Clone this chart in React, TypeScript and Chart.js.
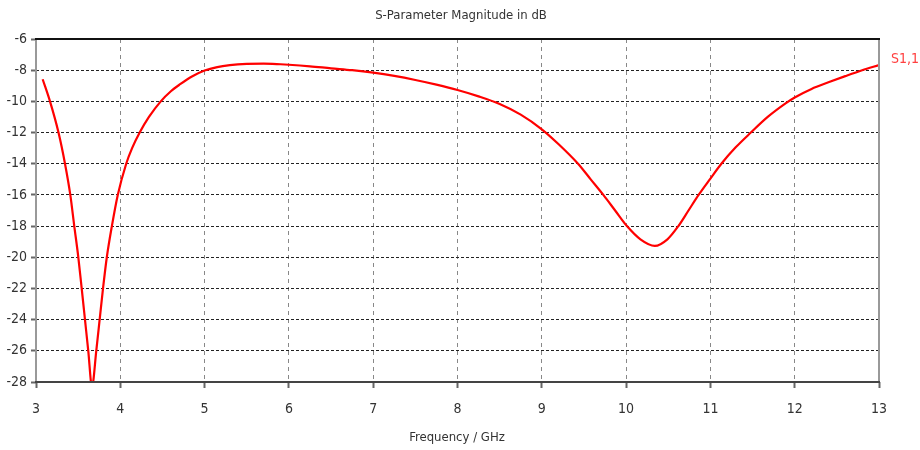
import React, { useEffect, useRef } from "react";
import { Chart, registerables } from "chart.js";

Chart.register(...registerables);

const TITLE = "S-Parameter Magnitude in dB";
const X_TITLE = "Frequency / GHz";
const SERIES_LABEL = "S1,1";

const freqGHz = [
  3.079, 3.166, 3.267, 3.344, 3.407, 3.454, 3.502, 3.542, 3.581, 3.62, 3.664,
  3.715, 3.755, 3.795, 3.84, 3.9, 3.97, 4.07, 4.14, 4.23, 4.34, 4.48, 4.6, 4.71, 4.85,
  5.0, 5.15, 5.3, 5.5, 5.7, 5.9, 6.0, 6.25, 6.5, 6.75, 7.0, 7.25, 7.5, 7.75, 8.0,
  8.25, 8.5, 8.75, 9.0, 9.2, 9.43, 9.58, 9.73, 9.87, 10.01, 10.17, 10.34, 10.49,
  10.62, 10.74, 10.86, 11.0, 11.13, 11.3, 11.48, 11.68, 11.9, 12.0, 12.2, 12.4,
  12.6, 12.8, 13.0,
];
const s11dB = [
  -8.58, -10, -12, -14, -16, -18, -20, -22, -24, -26, -28.3,
  -26, -24, -22, -20, -18, -16, -14, -13, -12, -11, -10, -9.35, -8.9, -8.4,
  -8.02, -7.8, -7.68, -7.6, -7.58, -7.62, -7.65, -7.75, -7.88, -8.0, -8.16, -8.37, -8.63, -8.93, -9.27,
  -9.68, -10.17, -10.85, -11.79, -12.75, -14, -15, -16, -17, -18, -18.85, -19.27, -18.85,
  -18, -17, -16, -14.95, -14, -12.95, -12, -11, -10.1, -9.75, -9.2, -8.78,
  -8.38, -8.0, -7.67,
];

const xTicks = [3, 4, 5, 6, 7, 8, 9, 10, 11, 12, 13];
const yTicks = [-6, -8, -10, -12, -14, -16, -18, -20, -22, -24, -26, -28];

const FONT = '"Liberation Sans Narrow", "DejaVu Sans Condensed", "Arial Narrow", "Liberation Sans", sans-serif';

const framePlugin = {
  id: "frame",
  afterDraw(chart: any) {
    const { ctx, chartArea } = chart;
    const { left, right, top, bottom } = chartArea;
    ctx.save();
    ctx.lineWidth = 2;
    ctx.strokeStyle = "#999";
    ctx.beginPath();
    ctx.moveTo(right, top);
    ctx.lineTo(right, bottom);
    ctx.stroke();
    ctx.beginPath();
    ctx.moveTo(left, top);
    ctx.lineTo(left, bottom);
    ctx.stroke();
    ctx.strokeStyle = "#111";
    ctx.beginPath();
    ctx.moveTo(left - 1, top);
    ctx.lineTo(right + 1, top);
    ctx.stroke();
    ctx.strokeStyle = "#444";
    ctx.beginPath();
    ctx.moveTo(left - 1, bottom);
    ctx.lineTo(right + 1, bottom);
    ctx.stroke();

    ctx.fillStyle = "#333";
    ctx.textAlign = "center";
    ctx.textBaseline = "middle";
    ctx.font = `13px ${FONT}`;
    ctx.fillText(TITLE, 461, 16);
    ctx.font = `13px ${FONT}`;
    ctx.fillText(X_TITLE, 457, 438);

    ctx.fillStyle = "#ff4040";
    ctx.textAlign = "left";
    ctx.font = `14px ${FONT}`;
    ctx.fillText(SERIES_LABEL, 891, 59);
    ctx.restore();
  },
};

export default function App() {
  const ref = useRef<HTMLCanvasElement | null>(null);

  useEffect(() => {
    if (!ref.current) return;
    const points = freqGHz.map((f, i) => ({ x: f, y: s11dB[i] }));
    const chart = new Chart(ref.current, {
      type: "line",
      data: {
        datasets: [
          {
            label: SERIES_LABEL,
            data: points,
            borderColor: "#ff0000",
            borderWidth: 2.2,
            pointRadius: 0,
            fill: false,
            cubicInterpolationMode: "monotone",
          },
        ],
      },
      options: {
        animation: false,
        responsive: true,
        maintainAspectRatio: false,
        layout: { padding: { top: 39, right: 41, left: 0, bottom: 0 } },
        plugins: {
          legend: { display: false },
          title: { display: false },
          tooltip: { enabled: false },
        },
        scales: {
          x: {
            type: "linear",
            min: 3,
            max: 13,
            afterFit: (s: any) => {
              s.height = 68;
            },
            afterBuildTicks: (s: any) => {
              s.ticks = xTicks.map((v) => ({ value: v }));
            },
            ticks: {
              color: "#333",
              font: { family: FONT, size: 14 },
              padding: 13,
              maxRotation: 0,
              autoSkip: false,
            },
            grid: {
              color: "#888",
              lineWidth: 1,
              tickLength: 6,
              tickColor: "#666",
              tickWidth: 2,
            },
            border: { display: false, dash: [4, 4] },
          },
          y: {
            min: -28,
            max: -6,
            afterFit: (s: any) => {
              s.width = 36;
            },
            afterBuildTicks: (s: any) => {
              s.ticks = yTicks.map((v) => ({ value: v }));
            },
            ticks: {
              color: "#333",
              font: { family: FONT, size: 14 },
              padding: 4,
              autoSkip: false,
            },
            grid: {
              color: "#222",
              lineWidth: 1,
              tickLength: 5,
              tickColor: "#666",
              tickWidth: 2,
            },
            border: { display: false, dash: [3, 2] },
          },
        },
      },
      plugins: [framePlugin],
    });
    return () => chart.destroy();
  }, []);

  return (
    <div style={{ position: "fixed", left: 0, top: 0, width: 920, height: 450, background: "#fff" }}>
      <canvas ref={ref} />
    </div>
  );
}
